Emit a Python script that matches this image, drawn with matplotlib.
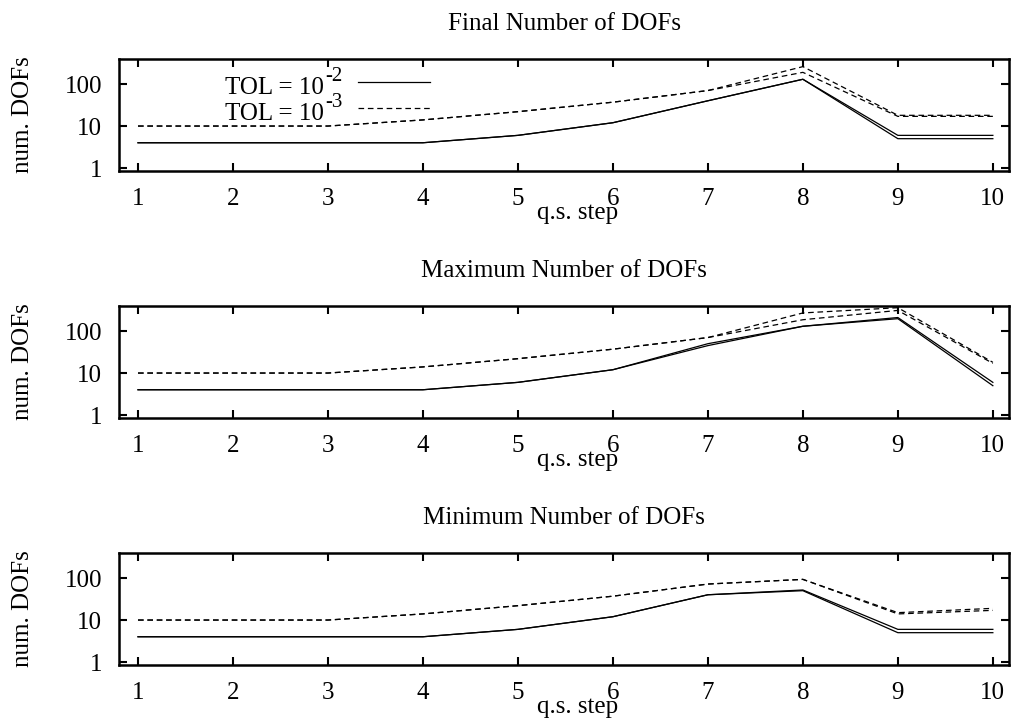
import matplotlib
matplotlib.use("Agg")
import matplotlib.pyplot as plt

plt.rcParams['font.family'] = ['Liberation Serif', 'DejaVu Serif']

steps = [1, 2, 3, 4, 5, 6, 7, 8, 9, 10]
titles = ["Final Number of DOFs", "Maximum Number of DOFs", "Minimum Number of DOFs"]
legend_base = ["TOL = 10", "TOL = 10"]
legend_exp = ["-2", "-3"]
yticks = [1, 10, 100]
ytick_labels = ["1", "10", "100"]

# Final
final_tol2_a = [4, 4, 4, 4, 6, 12, 40, 130, 6, 6]
final_tol2_b = [4, 4, 4, 4, 6, 12, 40, 130, 5, 5]
final_tol3_a = [10, 10, 10, 14, 22, 37, 70, 260, 18, 18]
final_tol3_b = [10, 10, 10, 14, 22, 37, 70, 190, 17, 17]
# Maximum
max_tol2_a = [4, 4, 4, 4, 6, 12, 50, 130, 210, 6]
max_tol2_b = [4, 4, 4, 4, 6, 12, 45, 130, 197, 5]
max_tol3_a = [10, 10, 10, 14, 22, 37, 70, 270, 360, 18]
max_tol3_b = [10, 10, 10, 14, 22, 37, 70, 186, 310, 17]
# Minimum
min_tol2_a = [4, 4, 4, 4, 6, 12, 40, 52, 6, 6]
min_tol2_b = [4, 4, 4, 4, 6, 12, 40, 50, 5, 5]
min_tol3_a = [10, 10, 10, 14, 22, 37, 72, 93, 15, 19]
min_tol3_b = [10, 10, 10, 14, 22, 37, 72, 93, 14, 17]

panels = [
    (final_tol2_a, final_tol2_b, final_tol3_a, final_tol3_b),
    (max_tol2_a, max_tol2_b, max_tol3_a, max_tol3_b),
    (min_tol2_a, min_tol2_b, min_tol3_a, min_tol3_b),
]

W, H = 1011, 722
fig = plt.figure(figsize=(W / 100, H / 100), dpi=100)

boxes = [(59, 171), (306, 418), (553, 665)]
left_px, right_px = 119, 1009
fs = 18
lw = 0.9
dash = (4.5, 3)

for i, ((t, b), data) in enumerate(zip(boxes, panels)):
    ax = fig.add_axes([left_px / W, 1 - b / H, (right_px - left_px) / W, (b - t) / H])
    t2a, t2b, t3a, t3b = data
    ax.plot(steps, t2a, color='black', lw=lw)
    ax.plot(steps, t2b, color='black', lw=lw)
    ax.plot(steps, t3a, color='black', lw=lw, dashes=dash)
    ax.plot(steps, t3b, color='black', lw=lw, dashes=dash)
    ax.set_yscale('log')
    ax.set_ylim(0.85, 395)
    ax.set_xlim(0.8, 10.17)
    ax.set_yticks(yticks)
    ax.set_yticklabels(ytick_labels)
    ax.minorticks_off()
    ax.set_xticks(steps)
    ax.set_xticklabels([str(s) for s in steps])
    ax.tick_params(direction='in', length=6, width=1.5, top=True, right=True,
                   labelsize=fs, pad=12, colors='black')
    ax.tick_params(axis='y', pad=12)
    for sp in ax.spines.values():
        sp.set_linewidth(1.8)
    ax.set_title(titles[i], fontsize=fs, pad=21)
    ax.set_ylabel("num. DOFs", fontsize=fs)
    ax.yaxis.set_label_coords(-0.095, 0.5)
    ax.set_xlabel("q.s. step", fontsize=fs)
    ax.xaxis.set_label_coords(0.515, -0.275)
    if i == 0:
        ys_text = [0.6875, 0.455]
        ys_line = [0.795, 0.5625]
        styles = [dict(), dict(dashes=dash)]
        for base, ex, yt, yl, st in zip(legend_base, legend_exp, ys_text, ys_line, styles):
            ax.text(0.2303, yt, base, transform=ax.transAxes, ha='right',
                    va='baseline', fontsize=fs)
            ax.text(0.2315, yt + 0.12, ex, transform=ax.transAxes, ha='left',
                    va='baseline', fontsize=15)
            ax.plot([0.2685, 0.3494], [yl, yl], transform=ax.transAxes,
                    color='black', lw=lw, **st)

fig.savefig("out.png", dpi=100)
